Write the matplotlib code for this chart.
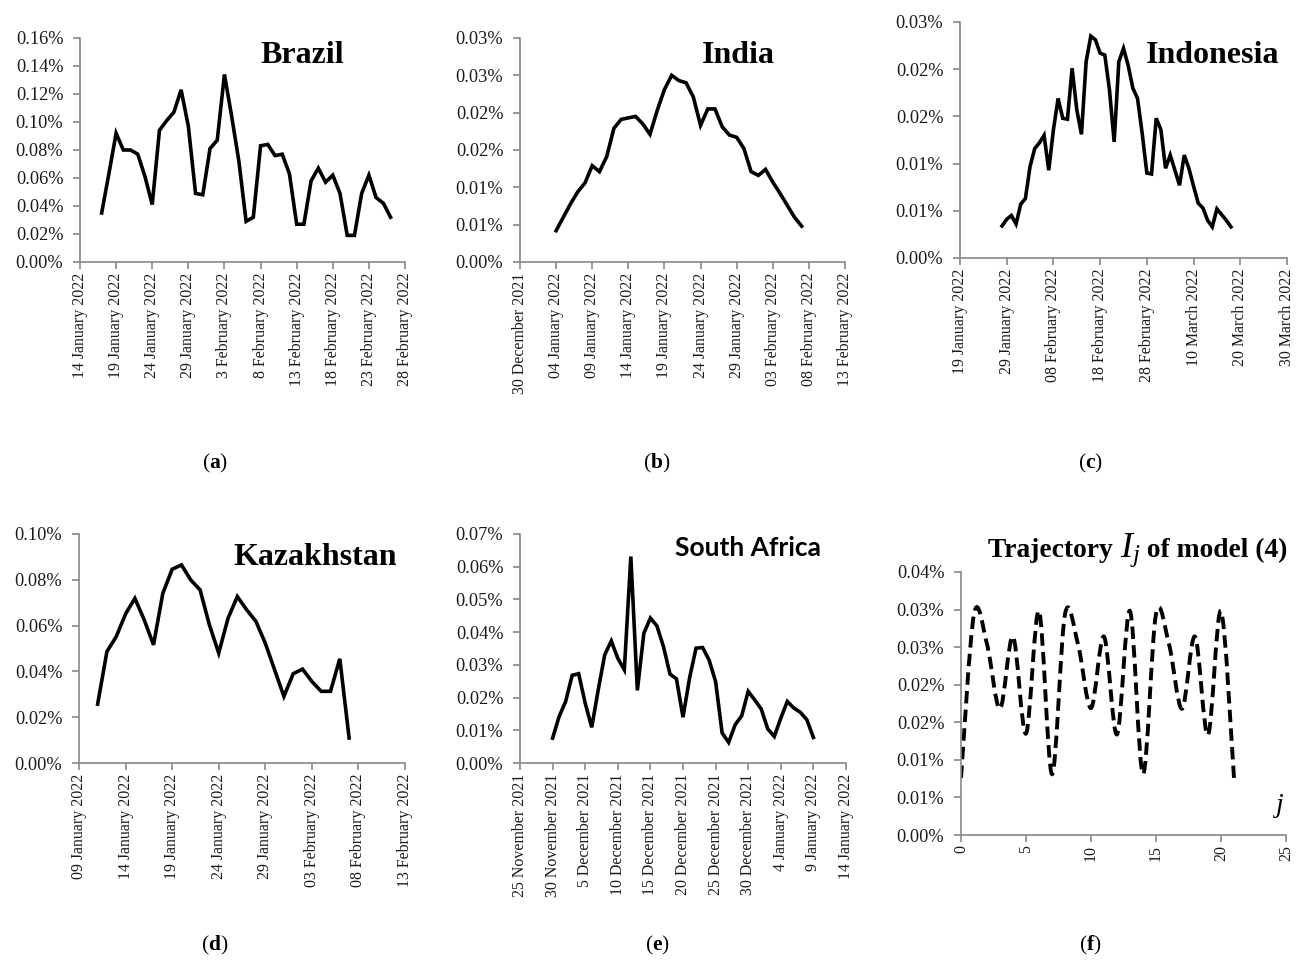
from datetime import datetime
import numpy as np
import pandas as pd
import matplotlib
matplotlib.use("Agg")
import matplotlib.pyplot as plt
from matplotlib.path import Path
from matplotlib.patches import PathPatch

plt.rcParams['font.family'] = ['Liberation Serif', 'DejaVu Serif']
plt.rcParams['mathtext.fontset'] = 'custom'
plt.rcParams['mathtext.rm'] = 'Liberation Serif'
plt.rcParams['mathtext.it'] = 'Liberation Serif:italic'
plt.rcParams['mathtext.bf'] = 'Liberation Serif:bold'

# ------------------------------------------------------------
# data (daily share of infected, in percent)
# ------------------------------------------------------------
brazil_start = "2022-01-17"
brazil = [0.035, 0.063, 0.092, 0.080, 0.080, 0.077, 0.061, 0.041, 0.094, 0.101,
          0.107, 0.123, 0.097, 0.049, 0.048, 0.081, 0.087, 0.134, 0.104, 0.072,
          0.029, 0.032, 0.083, 0.084, 0.076, 0.077, 0.063, 0.027, 0.027, 0.058,
          0.067, 0.057, 0.062, 0.049, 0.019, 0.019, 0.049, 0.062, 0.046, 0.042,
          0.032]

india_start = "2022-01-04"
india = [0.0042, 0.0060, 0.0078, 0.0094, 0.0106, 0.0129, 0.0121, 0.0141, 0.0179,
         0.0191, 0.0193, 0.0195, 0.0185, 0.0171, 0.0203, 0.0231, 0.0250, 0.0243,
         0.0240, 0.0221, 0.0183, 0.0205, 0.0205, 0.0181, 0.0170, 0.0167, 0.0152,
         0.0121, 0.0116, 0.0124, 0.0107, 0.0092, 0.0076, 0.0060, 0.0048]

indonesia_start = "2022-01-28"
indonesia = [0.0034, 0.0041, 0.0045, 0.0036, 0.0057, 0.0063, 0.0097, 0.0116, 0.0122,
             0.0130, 0.0093, 0.0136, 0.0169, 0.0148, 0.0147, 0.0201, 0.0157, 0.0131,
             0.0208, 0.0235, 0.0231, 0.0217, 0.0215, 0.0178, 0.0123, 0.0208, 0.0222,
             0.0204, 0.0180, 0.0169, 0.0132, 0.0090, 0.0089, 0.0148, 0.0136, 0.0095,
             0.0109, 0.0093, 0.0077, 0.0109, 0.0095, 0.0076, 0.0058, 0.0053, 0.0040,
             0.0033, 0.0052, 0.0046, 0.0040, 0.0033]

kazakhstan_start = "2022-01-11"
kazakhstan = [0.0257, 0.0487, 0.0552, 0.0651, 0.0719, 0.0625, 0.0516, 0.0741, 0.0846,
              0.0865, 0.0799, 0.0756, 0.0603, 0.0480, 0.0632, 0.0727, 0.0669, 0.0618,
              0.0523, 0.0407, 0.0291, 0.0390, 0.0410, 0.0356, 0.0313, 0.0313, 0.0455,
              0.0109]

safrica_start = "2021-11-30"
safrica = [0.0076, 0.0142, 0.0188, 0.0268, 0.0273, 0.0183, 0.0109, 0.0224, 0.0331,
           0.0373, 0.0320, 0.0285, 0.0631, 0.0222, 0.0397, 0.0443, 0.0419, 0.0356,
           0.0272, 0.0257, 0.0140, 0.0259, 0.0351, 0.0353, 0.0315, 0.0249, 0.0092,
           0.0063, 0.0117, 0.0144, 0.0219, 0.0193, 0.0165, 0.0104, 0.0081, 0.0137,
           0.0188, 0.0168, 0.0155, 0.0132, 0.0078]

# trajectory I_j of model (4)
traj_j = list(range(22))
traj_I = [0.0076, 0.0294, 0.0254, 0.0168, 0.0264, 0.0135, 0.0298, 0.0081, 0.0294,
          0.0254, 0.0169, 0.0264, 0.0134, 0.0298, 0.0081, 0.0294, 0.0254, 0.0168,
          0.0264, 0.0133, 0.0298, 0.0076]

# tick labels
brazil_xt = ["14 January 2022", "19 January 2022", "24 January 2022", "29 January 2022",
             "3 February 2022", "8 February 2022", "13 February 2022", "18 February 2022",
             "23 February 2022", "28 February 2022"]
india_xt = ["30 December 2021", "04 January 2022", "09 January 2022", "14 January 2022",
            "19 January 2022", "24 January 2022", "29 January 2022", "03 February 2022",
            "08 February 2022", "13 February 2022"]
indonesia_xt = ["19 January 2022", "29 January 2022", "08 February 2022", "18 February 2022",
                "28 February 2022", "10 March 2022", "20 March 2022", "30 March 2022"]
kazakhstan_xt = ["09 January 2022", "14 January 2022", "19 January 2022", "24 January 2022",
                 "29 January 2022", "03 February 2022", "08 February 2022", "13 February 2022"]
safrica_xt = ["25 November 2021", "30 November 2021", "5 December 2021", "10 December 2021",
              "15 December 2021", "20 December 2021", "25 December 2021", "30 December 2021",
              "4 January 2022", "9 January 2022", "14 January 2022"]
traj_xt = ["0", "5", "10", "15", "20", "25"]

brazil_yt = ["0.00%", "0.02%", "0.04%", "0.06%", "0.08%", "0.10%", "0.12%", "0.14%", "0.16%"]
india_yt = ["0.00%", "0.01%", "0.01%", "0.02%", "0.02%", "0.03%", "0.03%"]
indonesia_yt = ["0.00%", "0.01%", "0.01%", "0.02%", "0.02%", "0.03%"]
kazakhstan_yt = ["0.00%", "0.02%", "0.04%", "0.06%", "0.08%", "0.10%"]
safrica_yt = ["0.00%", "0.01%", "0.02%", "0.03%", "0.04%", "0.05%", "0.06%", "0.07%"]
traj_yt = ["0.00%", "0.01%", "0.01%", "0.02%", "0.02%", "0.03%", "0.03%", "0.04%"]

# ------------------------------------------------------------
W, H = 1296, 969
fig = plt.figure(figsize=(W / 100, H / 100), dpi=100)
GRAY = '#888888'
TXT = '#1a1a1a'


def box(l, t, r, b):
    return [l / W, 1 - b / H, (r - l) / W, (b - t) / H]


def style(ax, ystep, ylabels):
    for s in ['top', 'right']:
        ax.spines[s].set_visible(False)
    for s in ['left', 'bottom']:
        ax.spines[s].set_color(GRAY)
        ax.spines[s].set_linewidth(1.2)
    ax.set_yticks([ystep * i for i in range(len(ylabels))])
    ax.set_yticklabels(ylabels)
    ax.set_ylim(0, ystep * (len(ylabels) - 1))
    ax.tick_params(axis='y', direction='out', length=5, width=1.2, color=GRAY,
                   labelsize=13.2, labelcolor=TXT, pad=7)
    ax.tick_params(axis='x', direction='out', length=5, width=1.2, color=GRAY,
                   labelsize=11.4, labelcolor=TXT, pad=2.5, labelrotation=90)


def date_panel(rect, start, vals, xt, ystep, yt):
    ax = fig.add_axes(box(*rect))
    x = pd.date_range(start, periods=len(vals), freq='D').to_numpy()
    ax.plot(x, vals, color='black', lw=2.6, solid_joinstyle='miter')
    ticks = [datetime.strptime(s, '%d %B %Y') for s in xt]
    ax.set_xticks(ticks)
    ax.set_xticklabels(xt)
    ax.set_xlim(ticks[0], ticks[-1])
    style(ax, ystep, yt)
    return ax


date_panel((80, 38, 405, 262), brazil_start, brazil, brazil_xt, 0.02, brazil_yt)
date_panel((520, 38, 845, 262), india_start, india, india_xt, 0.005, india_yt)
date_panel((960, 22, 1287, 258), indonesia_start, indonesia, indonesia_xt, 0.005, indonesia_yt)
date_panel((79, 534, 405, 763), kazakhstan_start, kazakhstan, kazakhstan_xt, 0.02, kazakhstan_yt)
date_panel((520, 534, 846, 763), safrica_start, safrica, safrica_xt, 0.01, safrica_yt)

# (f) smoothed dashed trajectory (Bezier through the points, like Excel smoothing)
axf = fig.add_axes(box(961, 572, 1286, 835))
P = list(zip(traj_j, traj_I))
verts = [P[0]]
codes = [Path.MOVETO]
n = len(P)
for i in range(n - 1):
    p0 = P[i - 1] if i > 0 else P[i]
    p1, p2 = P[i], P[i + 1]
    p3 = P[i + 2] if i + 2 < n else P[i + 1]
    c1 = (p1[0] + (p2[0] - p0[0]) / 6, p1[1] + (p2[1] - p0[1]) / 6)
    c2 = (p2[0] - (p3[0] - p1[0]) / 6, p2[1] - (p3[1] - p1[1]) / 6)
    verts += [c1, c2, p2]
    codes += [Path.CURVE4] * 3
axf.add_patch(PathPatch(Path(verts, codes), fill=False, edgecolor='black', lw=2.8,
                        linestyle=(0, (3.2, 1.6)), transform=axf.transData))
axf.set_xticks([int(s) for s in traj_xt])
axf.set_xticklabels(traj_xt)
axf.set_xlim(0, 25)
style(axf, 0.005, traj_yt)


# ------------------------------------------------------------
# titles and panel labels (pixel positions)
def ftext(x, y, s, **kw):
    return fig.text(x / W, 1 - y / H, s, **kw)


ttl = dict(fontsize=23, fontweight='bold', ha='center', va='baseline', color='black')
ftext(302, 63, "Brazil", **ttl)
ftext(738, 63, "India", **ttl)
ftext(1213, 63, "Indonesia", **ttl)
ftext(315, 565, "Kazakhstan", **ttl)
ftext(748, 556, "South Africa", fontsize=19, fontweight='bold', ha='center',
      va='baseline', family=['Lato', 'DejaVu Sans'])

t1 = ftext(988, 557, "Trajectory ", fontsize=19.8, fontweight='bold', va='baseline')
a2 = axf.annotate(r"$I_j$", xy=(1, H - 557), xycoords=(t1, 'figure pixels'),
                  fontsize=26, va='baseline', ha='left', annotation_clip=False)
axf.annotate(" of model (4)", xy=(1, H - 557), xycoords=(a2, 'figure pixels'),
             fontsize=19.8, fontweight='bold', va='baseline', ha='left',
             annotation_clip=False)
ftext(1280, 805, "j", fontsize=20, style='italic', ha='center', va='center')

lab = dict(fontsize=15.5, ha='center', va='center', color='black')
for (x, y, c) in [(215, 463, 'a'), (657, 463, 'b'), (1090, 463, 'c'),
                  (215, 945, 'd'), (657, 945, 'e'), (1090, 945, 'f')]:
    ftext(x, y, "($\\mathbf{%s}$)" % c, **lab)

fig.savefig("out.png", dpi=100)
